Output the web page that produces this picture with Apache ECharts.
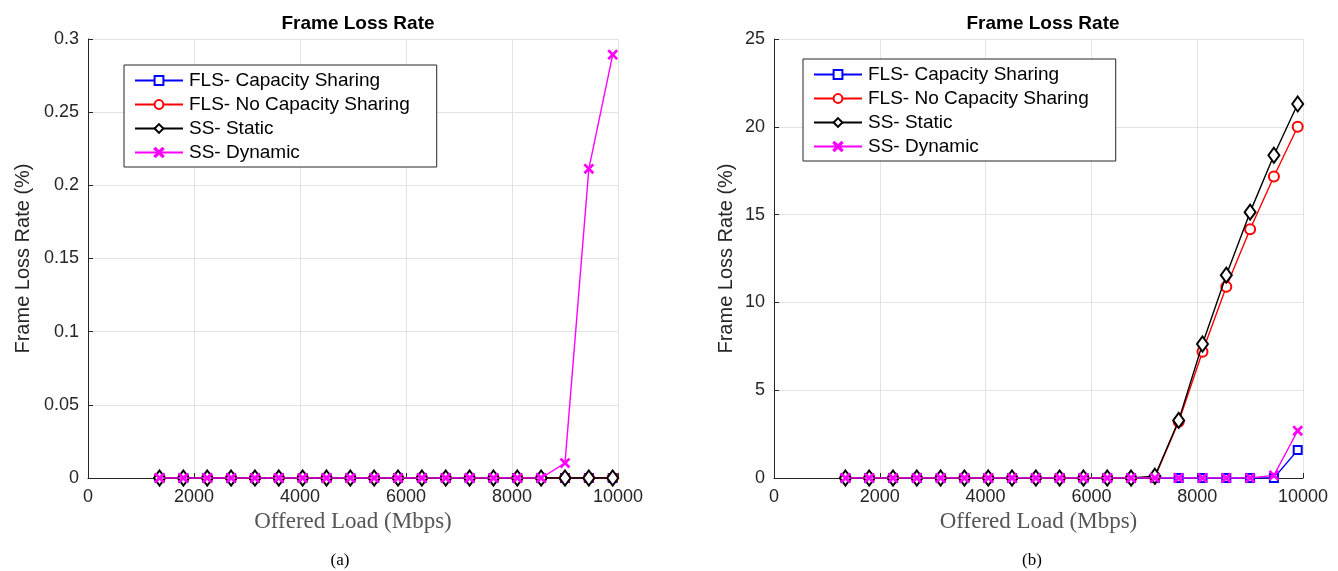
<!DOCTYPE html>
<html>
<head>
<meta charset="utf-8">
<script src="https://cdn.jsdelivr.net/npm/echarts@6/dist/echarts.min.js"></script>
<style>
html,body{margin:0;padding:0;background:#fff;}
#c{width:1338px;height:571px;}
</style>
</head>
<body>
<div id="c"></div>
<script>
// ---- data ----
const loads = [1350, 1800, 2250, 2700, 3150, 3600, 4050, 4500, 4950, 5400, 5850, 6300, 6750, 7200, 7650, 8100, 8550, 9000, 9450, 9900];
const seriesNames = ['FLS- Capacity Sharing', 'FLS- No Capacity Sharing', 'SS- Static', 'SS- Dynamic'];
const xTicks = [0, 2000, 4000, 6000, 8000, 10000];
const yTicksA = [0, 0.05, 0.1, 0.15, 0.2, 0.25, 0.3];
const yTicksB = [0, 5, 10, 15, 20, 25];

// (a)
const aCapSharing   = [0,0,0,0,0,0,0,0,0,0,0,0,0,0,0,0,0,0,0,0];
const aNoCapSharing = [0,0,0,0,0,0,0,0,0,0,0,0,0,0,0,0,0,0,0,0];
const aStatic       = [0,0,0,0,0,0,0,0,0,0,0,0,0,0,0,0,0,0,0,0];
const aDynamic      = [0,0,0,0,0,0,0,0,0,0,0,0,0,0,0,0,0,0.0102,0.2113,0.2893];

// (b)
const bCapSharing   = [0,0,0,0,0,0,0,0,0,0,0,0,0,0,0,0,0,0,0,1.59];
const bNoCapSharing = [0,0,0,0,0,0,0,0,0,0,0,0,0,0.05,3.2,7.19,10.89,14.17,17.17,20.0];
const bStatic       = [0,0,0,0,0,0,0,0,0,0,0,0,0,0.1,3.28,7.63,11.55,15.14,18.38,21.3];
const bDynamic      = [0,0,0,0,0,0,0,0,0,0,0,0,0,0,0,0,0,0,0.15,2.69];

// ---- styling ----
const colors = ['#0000ff', '#ff0000', '#000000', '#ff00ff'];
const xSym = 'path://M0,1.1L1.1,0L5,3.9L8.9,0L10,1.1L6.1,5L10,8.9L8.9,10L5,6.1L1.1,10L0,8.9L3.9,5Z';
const symbols = ['emptyRect', 'emptyCircle', 'emptyDiamond', xSym];
const symbolSizes = [8, 10, [11, 15], 9];
const axisCol = '#262626';
const gridCol = '#e3e3e3';
const sans = 'Liberation Sans, Arial, Helvetica, sans-serif';
const serif = 'Liberation Serif, DejaVu Serif, serif';

const grids = [
  {left: 88, top: 39, width: 530, height: 439},
  {left: 774, top: 39, width: 529, height: 439}
];

function xAxis(gi) {
  return {
    type: 'value', gridIndex: gi, min: 0, max: 10000, interval: 2000,
    name: 'Offered Load (Mbps)', nameLocation: 'middle', nameGap: 31,
    nameTextStyle: {fontFamily: serif, fontSize: 23, color: '#555'},
    axisLine: {show: true, lineStyle: {color: axisCol, width: 1}},
    axisTick: {show: true, inside: true, length: 5, lineStyle: {color: axisCol}},
    axisLabel: {fontFamily: sans, fontSize: 18, color: axisCol, margin: 10,
      formatter: v => xTicks.includes(v) ? String(v) : ''},
    splitLine: {show: true, lineStyle: {color: gridCol, width: 1}}
  };
}
function yAxis(gi, max, interval, gap, ticks) {
  return {
    type: 'value', gridIndex: gi, min: 0, max: max, interval: interval,
    name: 'Frame Loss Rate (%)', nameLocation: 'middle', nameGap: gap, nameRotate: 90,
    nameTextStyle: {fontFamily: sans, fontSize: 20, color: axisCol},
    axisLine: {show: true, lineStyle: {color: axisCol, width: 1}},
    axisTick: {show: true, inside: true, length: 5, lineStyle: {color: axisCol}},
    axisLabel: {fontFamily: sans, fontSize: 18, color: axisCol, margin: 9,
      formatter: v => { const t = ticks.find(u => Math.abs(u - v) < 1e-9); return t === undefined ? '' : String(t); }},
    splitLine: {show: true, lineStyle: {color: gridCol, width: 1}}
  };
}

function mkSeries(gi, arrs) {
  return arrs.map((arr, i) => ({
    name: seriesNames[i], type: 'line', xAxisIndex: gi, yAxisIndex: gi,
    data: loads.map((x, j) => [x, arr[j]]),
    symbol: symbols[i], symbolSize: symbolSizes[i], showAllSymbol: true,
    lineStyle: {color: colors[i], width: 1.4},
    itemStyle: {color: colors[i], borderColor: colors[i], borderWidth: 1.3},
    z: 2 + i, animation: false
  }));
}

function legend(left, top) {
  return {
    orient: 'vertical', left: left, top: top,
    data: seriesNames,
    backgroundColor: '#fff', borderColor: axisCol, borderWidth: 1,
    padding: [6, 27, 5, 10], itemGap: 5, itemWidth: 48, itemHeight: 11,
    textStyle: {fontFamily: sans, fontSize: 19, color: '#000', lineHeight: 17, padding: [0, 0, 0, 1]},
    selectedMode: false
  };
}

const option = {
  backgroundColor: '#fff',
  animation: false,
  title: [
    {text: 'Frame Loss Rate', left: 353, top: 9, textAlign: 'center',
      textStyle: {fontFamily: sans, fontSize: 19, fontWeight: 'bold', color: '#000'}},
    {text: 'Frame Loss Rate', left: 1038, top: 9, textAlign: 'center',
      textStyle: {fontFamily: sans, fontSize: 19, fontWeight: 'bold', color: '#000'}},
    {text: '(a)', left: 335, top: 547, textAlign: 'center',
      textStyle: {fontFamily: serif, fontSize: 17, fontWeight: 'normal', color: '#000'}},
    {text: '(b)', left: 1027, top: 547, textAlign: 'center',
      textStyle: {fontFamily: serif, fontSize: 17, fontWeight: 'normal', color: '#000'}}
  ],
  grid: grids,
  xAxis: [xAxis(0), xAxis(1)],
  yAxis: [yAxis(0, 0.3, 0.05, 55, yTicksA), yAxis(1, 25, 5, 38, yTicksB)],
  legend: [legend(124, 65), legend(803, 59)],
  series: [
    ...mkSeries(0, [aCapSharing, aNoCapSharing, aStatic, aDynamic]),
    ...mkSeries(1, [bCapSharing, bNoCapSharing, bStatic, bDynamic])
  ]
};

const chart = echarts.init(document.getElementById('c'), null, {renderer: 'canvas'});
chart.setOption(option);
</script>
</body>
</html>
